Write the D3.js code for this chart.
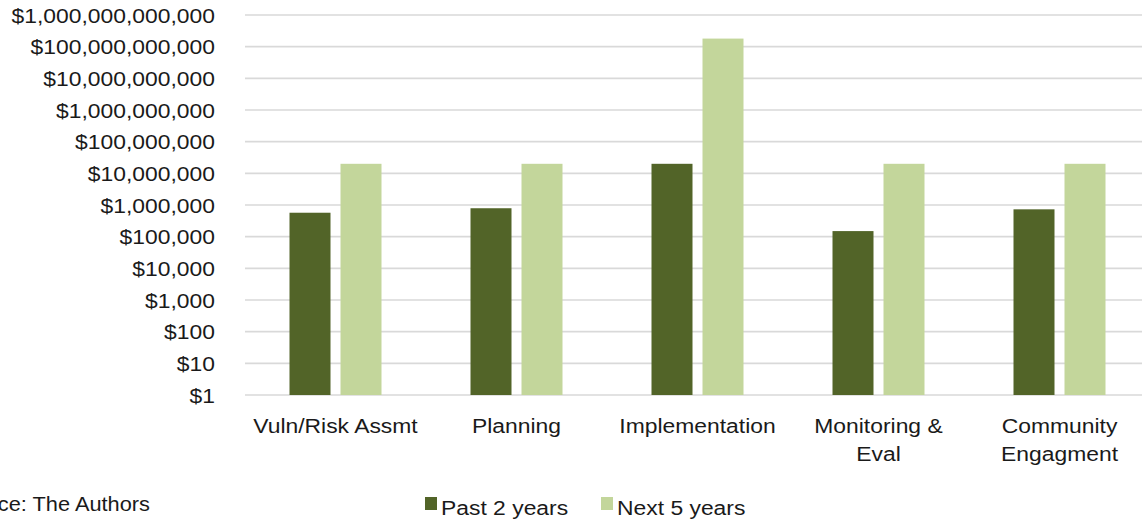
<!DOCTYPE html>
<html><head><meta charset="utf-8">
<script src="https://cdn.jsdelivr.net/npm/d3@7"></script>
<style>body{margin:0;background:#fff}svg{display:block}text{font-family:"Liberation Sans",Arial,sans-serif;fill:#1a1a1a}</style>
</head><body>
<script>
const categories = [["Vuln/Risk Assmt"],["Planning"],["Implementation"],["Monitoring &","Eval"],["Community","Engagment"]];
const seriesNames = ["Past 2 years","Next 5 years"];
const past2 = [570000, 790000, 20000000, 150000, 730000];
const next5 = [20000000, 20000000, 180000000000, 20000000, 20000000];
const tickValues = [1,10,100,1000,1e4,1e5,1e6,1e7,1e8,1e9,1e10,1e11,1e12];
const colors = ["#526428","#c3d69b"];

const Wpx = 1142, H = 523, k = 1.09;
const W = Wpx / k;
const svg = d3.select("body").append("svg")
  .attr("width", Wpx).attr("height", H)
  .attr("viewBox", `0 0 ${W} ${H}`).attr("preserveAspectRatio","none");

const left = 245 / k, right = 1150 / k;
const y = d3.scaleLog().domain([1, 1e12]).range([395, 15]);
const catKeys = categories.map(c => c.join(" "));
const x0 = d3.scaleBand().domain(catKeys).range([left, right]).paddingInner(89/181).paddingOuter(44.5/181);
const x1 = d3.scaleBand().domain(seriesNames).range([0, x0.bandwidth()]).paddingInner(10/51);

// gridlines
svg.append("g").selectAll("line").data(tickValues).join("line")
  .attr("x1", left).attr("x2", W).attr("y1", d => y(d)).attr("y2", d => y(d))
  .attr("stroke", "#d9d9d9").attr("stroke-width", 1.6);

// y labels
const fmt = d3.format(",.0f");
svg.append("g").selectAll("text").data(tickValues).join("text")
  .attr("x", 215 / k).attr("y", d => y(d)).attr("dy", "0.36em")
  .attr("text-anchor", "end").attr("font-size", 21)
  .text(d => "$" + fmt(d));

// bars
const data = catKeys.map((c, i) => ({c, vals: [past2[i], next5[i]]}));
const g = svg.append("g").selectAll("g").data(data).join("g")
  .attr("transform", d => `translate(${x0(d.c)},0)`);
g.selectAll("rect").data(d => d.vals.map((v, j) => ({s: seriesNames[j], v, j}))).join("rect")
  .attr("x", d => x1(d.s)).attr("width", x1.bandwidth())
  .attr("y", d => y(d.v)).attr("height", d => y(1) - y(d.v))
  .attr("fill", d => colors[d.j]);

// category labels
const cl = svg.append("g").selectAll("text").data(categories).join("text")
  .attr("x", (d, i) => x0(catKeys[i]) + x0.bandwidth() / 2)
  .attr("y", 433).attr("text-anchor", "middle").attr("font-size", 21);
cl.selectAll("tspan").data(d => d).join("tspan")
  .attr("x", function() { return d3.select(this.parentNode).attr("x"); })
  .attr("dy", (d, i) => i === 0 ? 0 : 28).text(d => d);

// legend
const legendX = [425, 601];
const lg = svg.append("g").selectAll("g").data(seriesNames).join("g");
lg.append("rect").attr("x", (d, i) => legendX[i] / k).attr("y", 497)
  .attr("width", 12 / k).attr("height", 13).attr("fill", (d, i) => colors[i]);
lg.append("text").attr("x", (d, i) => (legendX[i] + 16) / k).attr("y", 515)
  .attr("font-size", 21).text(d => d);

// source
svg.append("text").attr("x", 150 / k).attr("y", 511).attr("text-anchor", "end")
  .attr("font-size", 20).text("Source: The Authors");
</script>
</body></html>
